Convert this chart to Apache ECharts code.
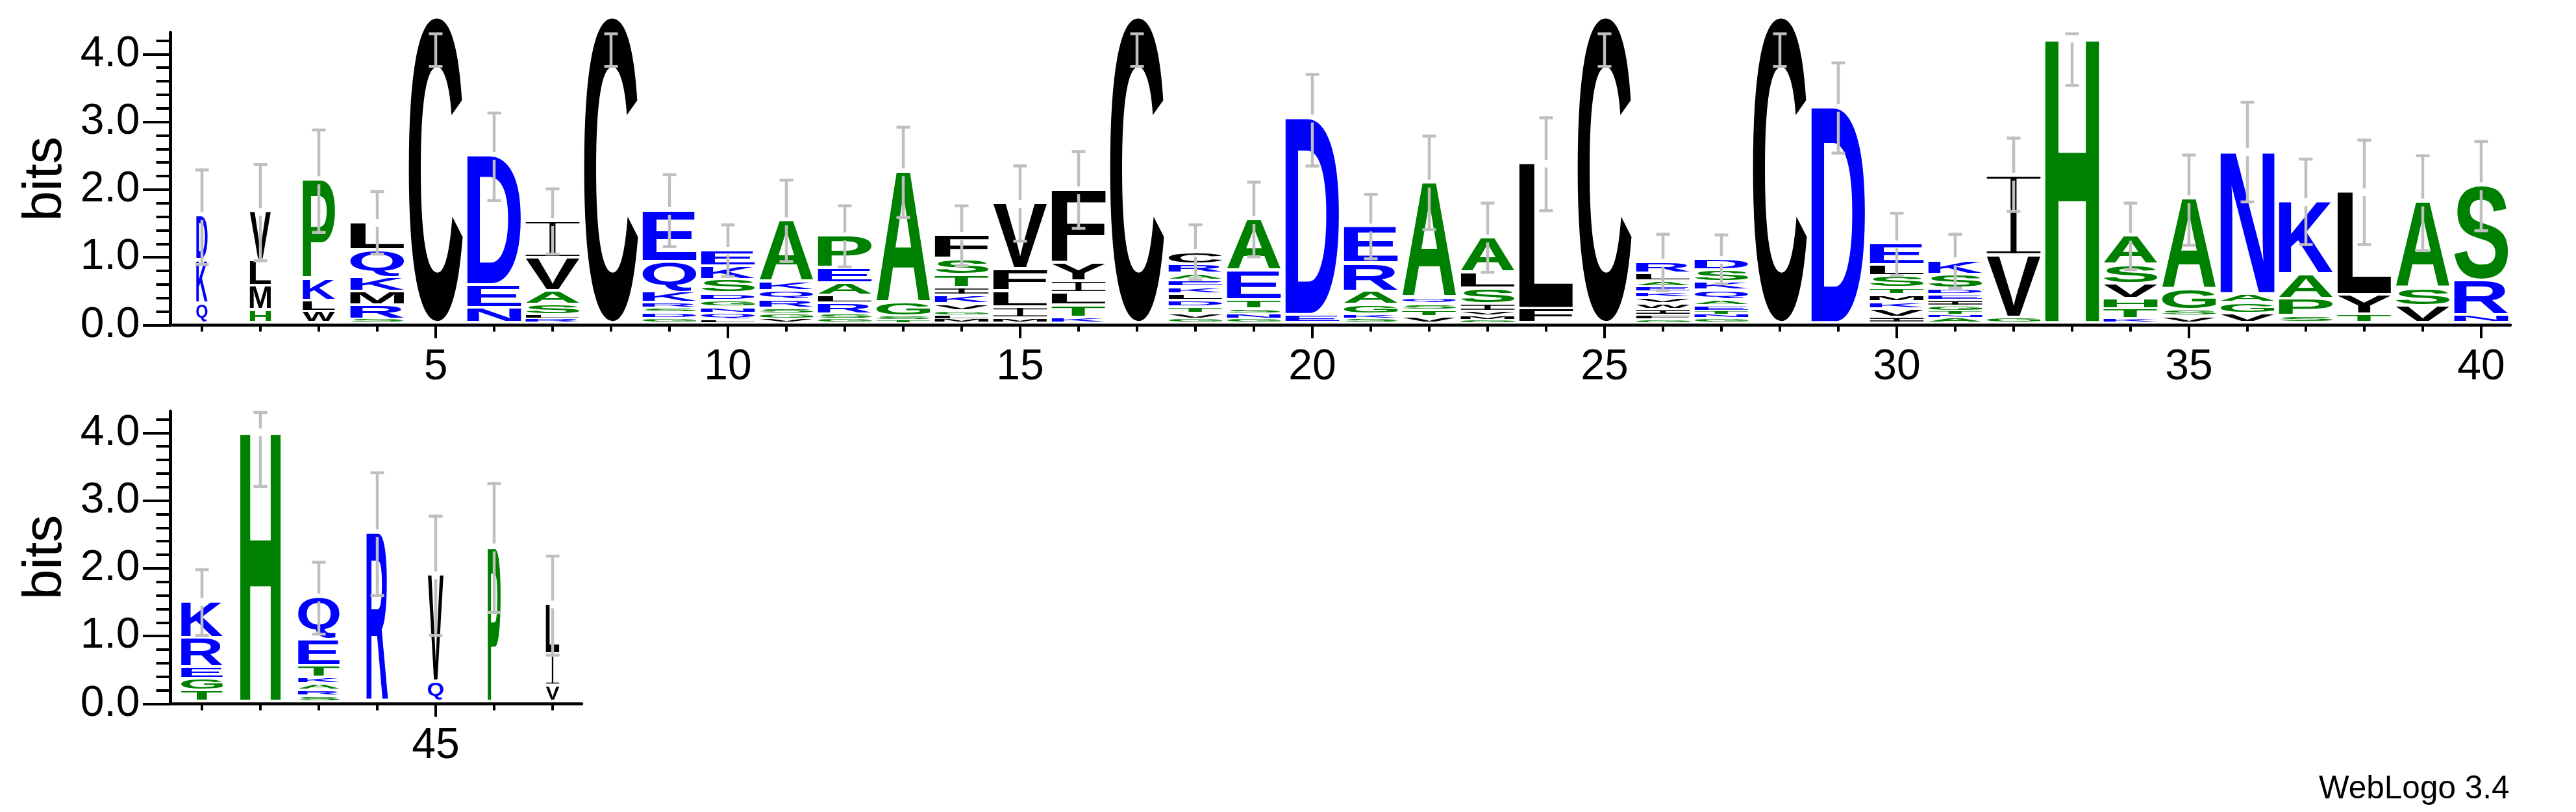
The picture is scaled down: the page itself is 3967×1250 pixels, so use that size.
<!DOCTYPE html>
<html>
<head>
<meta charset="utf-8">
<script src="https://cdn.jsdelivr.net/npm/echarts@6/dist/echarts.min.js"></script>
<style>
html,body{margin:0;padding:0;background:#ffffff;}
#chart{width:3967px;height:1250px;}
</style>
</head>
<body>
<div id="chart"></div>
<script>
// ---------------- data ----------------
const positionsTop = ['1','2','3','4','5','6','7','8','9','10','11','12','13','14','15','16','17','18','19','20',
  '21','22','23','24','25','26','27','28','29','30','31','32','33','34','35','36','37','38','39','40'];
const positionsBottom = ['41','42','43','44','45','46','47'];

// letters of each stack, listed from top of stack to bottom
const stackLetters = [
  'DKQ','VLMH','PKLW','LQKMRS','C','DEN','IVASLR','C','EQKRSDG','EKSDGNQL',
  'AKQRSGV','PEALRSG','AGST','FSTIKVGLM','VFLIM','FYILTK','C','CRAEKLDTVG','AETSNG','DE',
  'ERAGKS','AQSTV','ALSIVMG','LF','C','RLAEKVWIFG','DSKQAETNG','C','D','ELSTMKVI',
  'KSDEIGTNA','IVG','H','ASVHTK','AGSV','NAGV','KAPS','LYT','ASV','SRN',
  'KREGT','H','QETKARS','R','VQ','P','LIV'
];
// heights (bits) of each letter, same order as stackLetters
const stackBits = [
  [0.66,0.64,0.29],
  [0.73,0.37,0.36,0.19],
  [1.46,0.33,0.16,0.17],
  [0.41,0.41,0.21,0.20,0.21,0.05],
  [4.52],
  [1.92,0.34,0.22],
  [0.54,0.49,0.20,0.155,0.057,0.06],
  [4.52],
  [0.76,0.45,0.16,0.076,0.07,0.08,0.07],
  [0.24,0.20,0.20,0.106,0.10,0.087,0.10,0.045],
  [0.905,0.136,0.13,0.13,0.076,0.076,0.06],
  [0.47,0.23,0.186,0.117,0.16,0.076,0.053],
  [1.94,0.20,0.057,0.04],
  [0.35,0.235,0.19,0.114,0.129,0.106,0.068,0.053,0.053],
  [0.97,0.33,0.24,0.16,0.07],
  [1.08,0.27,0.178,0.186,0.174,0.083],
  [4.52],
  [0.18,0.14,0.10,0.10,0.106,0.095,0.095,0.095,0.087,0.05],
  [0.76,0.43,0.136,0.068,0.076,0.06],
  [2.91,0.12],
  [0.54,0.417,0.197,0.14,0.068,0.06],
  [1.70,0.09,0.09,0.10,0.09],
  [0.51,0.24,0.227,0.114,0.064,0.06,0.045],
  [2.155,0.21],
  [4.52],
  [0.17,0.117,0.08,0.08,0.087,0.083,0.087,0.087,0.068,0.045],
  [0.163,0.178,0.125,0.136,0.087,0.08,0.057,0.05,0.068],
  [4.52],
  [3.19],
  [0.318,0.16,0.174,0.10,0.106,0.106,0.125,0.083],
  [0.205,0.21,0.087,0.087,0.083,0.076,0.057,0.045,0.072],
  [1.17,0.92,0.083],
  [4.21],
  [0.424,0.284,0.22,0.148,0.148,0.06],
  [1.337,0.307,0.10,0.095],
  [2.106,0.133,0.155,0.14],
  [1.076,0.364,0.25,0.106],
  [1.53,0.284,0.129],
  [1.284,0.258,0.25],
  [1.405,0.515,0.11],
  [0.537,0.433,0.175,0.175,0.163],
  [3.99],
  [0.636,0.38,0.175,0.095,0.095,0.087,0.083],
  [2.50],
  [1.58,0.30],
  [2.29],
  [0.743,0.465,0.24]
];
// relative stack width (occupancy)
const stackWidths = [0.21,0.39,0.60,1,1,1,1,1,1,1, 1,1,1,1,1,1,1,1,1,1,
  1,1,1,1,1,1,1,1,1,1, 1,1,1,1,1,1,1,1,1,1,
  0.77,0.75,0.77,0.40,0.29,0.24,0.25];
// error bar ends (bits)
const errLow = [0.875,0.93,1.35,1.03,3.80,1.82,1.03,3.80,1.14,0.70,
  0.92,0.84,1.57,0.86,1.22,1.41,3.80,0.65,0.99,2.33,
  0.96,1.39,0.76,1.67,3.80,0.49,0.59,3.80,2.52,0.71,
  0.53,1.66,3.52,0.80,1.16,1.80,1.17,1.17,1.08,1.375,
  0.99,3.19,1.01,1.58,0.99,1.33,0.70];
const errHigh = [2.31,2.39,2.90,1.99,4.32,3.15,2.03,4.32,2.24,1.50,
  2.16,1.78,2.94,1.78,2.37,2.58,4.32,1.50,2.13,3.72,
  1.95,2.81,1.82,3.08,4.32,1.36,1.35,4.32,3.89,1.67,
  1.36,2.78,4.32,1.82,2.53,3.31,2.47,2.75,2.52,2.73,
  2.00,4.32,2.11,3.43,2.79,3.27,2.20];

const yTickValues = [0, 1, 2, 3, 4];
const yMinorTickValues = [0.2,0.4,0.6,0.8,1.2,1.4,1.6,1.8,2.2,2.4,2.6,2.8,3.2,3.4,3.6,3.8,4.2];
const Y_MAX = 4.32;

// ---------------- styling ----------------
const BLUE = '#0000ff', GREEN = '#008000', BLACK = '#000000', ERR = '#bfbfbf';
const hydrophilic = 'RKDENQ', neutral = 'SGHTAP';
function colorFor(ch) {
  if (hydrophilic.indexOf(ch) >= 0) return BLUE;
  if (neutral.indexOf(ch) >= 0) return GREEN;
  return BLACK;
}
const LETTER_FONT = 'bold 200px "Liberation Sans"';
const AXIS_FONT = '"Liberation Sans", Arial, sans-serif';
const STACK_FRACTION = 0.922;
const BASE_GAP = 4;

const measureCtx = document.createElement('canvas').getContext('2d');
const inkCache = {};
function inkOf(letter, font) {
  const key = font + '|' + letter;
  if (!inkCache[key]) {
    measureCtx.font = font;
    measureCtx.textAlign = 'center';
    measureCtx.textBaseline = 'middle';
    const m = measureCtx.measureText(letter);
    inkCache[key] = {l: m.actualBoundingBoxLeft, r: m.actualBoundingBoxRight,
                     a: m.actualBoundingBoxAscent, d: m.actualBoundingBoxDescent};
  }
  return inkCache[key];
}
function textGlyph(letter, x, y, w, h, fill) {
  const m = inkOf(letter, LETTER_FONT);
  const sx = w / (m.l + m.r), sy = h / (m.a + m.d);
  return {
    type: 'text', silent: true,
    x: x + sx * m.l, y: y + sy * m.a, scaleX: sx, scaleY: sy,
    style: {text: letter, font: LETTER_FONT, fill: fill,
            align: 'center', verticalAlign: 'middle',
            textAlign: 'center', textVerticalAlign: 'middle'}
  };
}
function glyphs(letter, x, y, w, h) {
  const fill = colorFor(letter);
  if (letter !== 'I') return [textGlyph(letter, x, y, w, h, fill)];
  // serif-style I: thin stem glyph with two thin bars
  const t = Math.max(1.5, 0.017 * h + 0.8);
  const sw = Math.max(2, 0.115 * w);
  return [
    textGlyph('I', x + (w - sw) / 2, y, sw, h, fill),
    {type: 'rect', silent: true, shape: {x: x, y: y, width: w, height: t, r: t / 2}, style: {fill: fill}},
    {type: 'rect', silent: true, shape: {x: x, y: y + h - t, width: w, height: t, r: t / 2}, style: {fill: fill}}
  ];
}

function makeRender(offset) {
  return function (params, api) {
    const k = params.dataIndex;
    const i = k + offset;
    const base = api.coord([k, 0]);
    const cx = base[0];
    const pxPerBit = base[1] - api.coord([k, 1])[1];
    const band = api.size([1, 0])[0];
    const w = band * STACK_FRACTION * stackWidths[i];
    const letters = stackLetters[i];
    const bits = stackBits[i];
    const children = [];
    let yb = base[1] - BASE_GAP;
    for (let j = letters.length - 1; j >= 0; j--) {
      const h = bits[j] * pxPerBit;
      const yt = yb - h;
      const inset = Math.min(2.2, h * 0.2);
      glyphs(letters[j], cx - w / 2, yt + inset, w, h - 2 * inset).forEach(function (g) { children.push(g); });
      yb = yt;
    }
    const topY = yb;
    const yLow = api.coord([k, errLow[i]])[1];
    const yHigh = api.coord([k, errHigh[i]])[1];
    const es = {stroke: ERR, lineWidth: 4.5};
    const gTop = topY - 4, gBot = topY + 8;
    if (yHigh < gTop) {
      children.push({type: 'line', silent: true, shape: {x1: cx, y1: yHigh, x2: cx, y2: Math.min(gTop, yLow)}, style: es});
    }
    if (yLow > gBot) {
      children.push({type: 'line', silent: true, shape: {x1: cx, y1: Math.max(gBot, yHigh), x2: cx, y2: yLow}, style: es});
    }
    children.push({type: 'line', silent: true, shape: {x1: cx - 10.5, y1: yHigh + 2, x2: cx + 10.5, y2: yHigh + 2}, style: es});
    children.push({type: 'line', silent: true, shape: {x1: cx - 10.5, y1: yLow - 2, x2: cx + 10.5, y2: yLow - 2}, style: es});
    return {type: 'group', children: children};
  };
}

function stackTotal(i) { return stackBits[i].reduce(function (s, v) { return s + v; }, 0); }

function xAxesFor(cats, gridIndex) {
  const isLabeled = function (idx, v) { return Number(v) % 5 === 0; };
  return [
    {type: 'category', gridIndex: gridIndex, data: cats, position: 'bottom', boundaryGap: true,
     axisLine: {show: true, onZero: false, lineStyle: {color: '#000', width: 4.5}},
     axisTick: {show: true, alignWithLabel: true, interval: 0, length: 10, lineStyle: {color: '#000', width: 4}},
     axisLabel: {show: false}, splitLine: {show: false}},
    {type: 'category', gridIndex: gridIndex, data: cats, position: 'bottom', boundaryGap: true,
     axisLine: {show: false, onZero: false},
     axisTick: {show: true, alignWithLabel: true, interval: isLabeled, length: 20, lineStyle: {color: '#000', width: 4}},
     axisLabel: {show: true, interval: isLabeled, margin: 32, fontSize: 66, fontFamily: AXIS_FONT, color: '#000'},
     splitLine: {show: false}}
  ];
}
function yAxesFor(gridIndex) {
  return [
    {type: 'value', gridIndex: gridIndex, min: 0, max: Y_MAX, interval: 1, position: 'left', offset: 3.5,
     axisLine: {show: true, onZero: false, lineStyle: {color: '#000', width: 5}},
     axisTick: {show: true, length: 42.5, customValues: yTickValues, lineStyle: {color: '#000', width: 4}},
     axisLabel: {show: true, customValues: yTickValues, margin: 47, fontSize: 66, fontFamily: AXIS_FONT, color: '#000',
                 formatter: function (v) { return Number(v).toFixed(1); }},
     splitLine: {show: false}},
    {type: 'value', gridIndex: gridIndex, min: 0, max: Y_MAX, interval: 0.2, position: 'left', offset: 3.5,
     axisLine: {show: false},
     axisTick: {show: true, length: 22, customValues: yMinorTickValues, lineStyle: {color: '#000', width: 4}},
     axisLabel: {show: false}, splitLine: {show: false}}
  ];
}

const chart = echarts.init(document.getElementById('chart'), null, {renderer: 'canvas', width: 3967, height: 1250});
chart.setOption({
  animation: false,
  backgroundColor: '#ffffff',
  textStyle: {fontFamily: AXIS_FONT},
  grid: [
    {left: 266, top: 50, width: 3600, height: 450.5, containLabel: false, outerBoundsMode: 'none'},
    {left: 266, top: 633, width: 630, height: 450.5, containLabel: false, outerBoundsMode: 'none'}
  ],
  xAxis: xAxesFor(positionsTop, 0).concat(xAxesFor(positionsBottom, 1)),
  yAxis: yAxesFor(0).concat(yAxesFor(1)),
  series: [
    {type: 'custom', xAxisIndex: 0, yAxisIndex: 0, clip: false, silent: true,
     data: positionsTop.map(function (p, k) { return [k, stackTotal(k)]; }),
     renderItem: makeRender(0)},
    {type: 'custom', xAxisIndex: 2, yAxisIndex: 2, clip: false, silent: true,
     data: positionsBottom.map(function (p, k) { return [k, stackTotal(k + 40)]; }),
     renderItem: makeRender(40)}
  ],
  graphic: [
    {type: 'text', x: 71, y: 275.5, rotation: Math.PI / 2,
     style: {text: 'bits', font: '84px "Liberation Sans"', fill: '#000', align: 'center', verticalAlign: 'middle'}},
    {type: 'text', x: 71, y: 858, rotation: Math.PI / 2,
     style: {text: 'bits', font: '84px "Liberation Sans"', fill: '#000', align: 'center', verticalAlign: 'middle'}},
    {type: 'text', x: 3864.5, y: 1215.8,
     style: {text: 'WebLogo 3.4', font: '49.5px "Liberation Sans"', fill: '#000', align: 'right', verticalAlign: 'middle'}}
  ]
});
</script>
</body>
</html>
